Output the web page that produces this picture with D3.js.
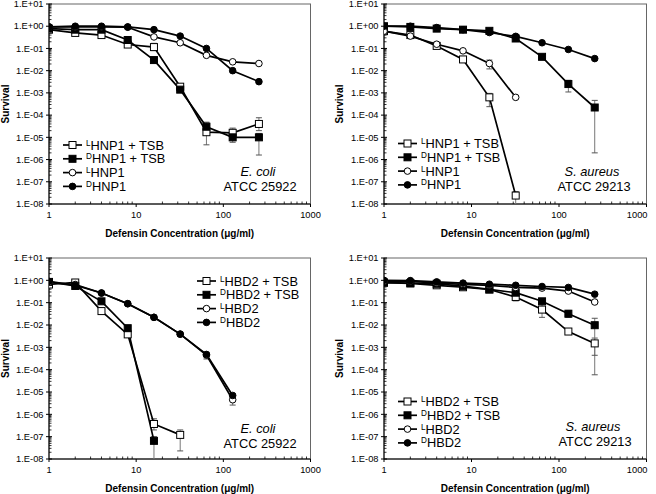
<!DOCTYPE html>
<html><head><meta charset="utf-8">
<script src="https://cdn.jsdelivr.net/npm/d3@7/dist/d3.min.js"></script>
<style>body{margin:0;background:#fff}svg{display:block}</style>
</head><body>
<svg id="c" width="656" height="494"></svg>
<script>
const conc = [1, 2, 4, 8, 16, 32, 64, 128, 256];
const yTickLabels = ["1.E+01","1.E+00","1.E-01","1.E-02","1.E-03","1.E-04","1.E-05","1.E-06","1.E-07","1.E-08"];
const xTickLabels = ["1","10","100","1000"];
const xTitle = "Defensin Concentration (\u03bcg/ml)";
const yTitle = "Survival";

// Panel A: E. coli, HNP1
const ecoliHNP1_L_TSB = [0.7, 0.5, 0.4, 0.15, 0.115, 0.0019, 1.7e-5, 1.6e-5, 4e-5];
const ecoliHNP1_D_TSB = [0.78, 0.7, 0.7, 0.24, 0.03, 0.0014, 3e-5, 1e-5, 1e-5];
const ecoliHNP1_L = [0.93, 0.93, 0.93, 0.9, 0.33, 0.18, 0.049, 0.025, 0.021];
const ecoliHNP1_D = [0.93, 1.0, 1.0, 0.93, 0.7, 0.36, 0.1, 0.01, 0.0032];
const ecoliHNP1_L_TSB_err = [null, null, null, null, [0.08, 0.17], [0.0015, 0.0024], [4.6e-6, 4.8e-5], [1e-5, 2.6e-5], [2e-5, 7.6e-5]];
const ecoliHNP1_D_TSB_err = [null, null, null, null, null, null, [1.5e-5, 4.5e-5], [6e-6, 1.5e-5], [1.6e-6, 1.5e-5]];

// Panel B: S. aureus, HNP1
const saurHNP1_L_TSB = [0.6, 0.4, 0.13, 0.032, 6.3e-4, 2.4e-8];
const saurHNP1_D_TSB = [1.0, 0.93, 0.78, 0.7, 0.62, 0.28, 0.042, 2.5e-3, 2.2e-4];
const saurHNP1_L = [0.6, 0.36, 0.155, 0.078, 0.021, 6.3e-4];
const saurHNP1_D = [1.0, 1.0, 0.87, 0.7, 0.52, 0.35, 0.18, 0.09, 0.035];
const saurHNP1_L_TSB_err = [null, null, null, null, [2.4e-4, 9.5e-4], [1e-9, 3.6e-8]];
const saurHNP1_D_TSB_err = [null, null, null, null, null, null, null, [1.1e-3, 3.7e-3], [2e-6, 4.6e-4]];
const saurHNP1_L_err = [null, null, null, null, [0.012, 0.03], null];

// Panel C: E. coli, HBD2
const ecoliHBD2_L_TSB = [0.65, 0.8, 0.042, 0.0038, 3.7e-7, 1.2e-7];
const ecoliHBD2_D_TSB = [0.85, 0.56, 0.115, 0.0072, 6.5e-8];
const ecoliHBD2_L = [0.8, 0.65, 0.27, 0.09, 0.022, 0.0039, 4.5e-4, 4.5e-6];
const ecoliHBD2_D = [0.9, 0.6, 0.27, 0.09, 0.022, 0.0039, 4.8e-4, 7e-6];
const ecoliHBD2_L_TSB_err = [null, null, null, null, [2e-7, 6.3e-7], [2.3e-8, 2e-7]];
const ecoliHBD2_D_TSB_err = [null, null, null, null, [1e-9, 1e-7]];
const ecoliHBD2_L_err = [null, null, null, null, null, null, [3e-4, 6e-4], [2.6e-6, 7e-6]];

// Panel D: S. aureus, HBD2
const saurHBD2_L_TSB = [0.79, 0.72, 0.6, 0.49, 0.39, 0.18, 0.049, 0.0051, 0.0015];
const saurHBD2_D_TSB = [0.79, 0.76, 0.7, 0.55, 0.39, 0.28, 0.115, 0.032, 0.0098];
const saurHBD2_L = [0.9, 0.9, 0.76, 0.66, 0.6, 0.48, 0.45, 0.33, 0.107];
const saurHBD2_D = [1.0, 0.97, 0.85, 0.75, 0.67, 0.6, 0.53, 0.48, 0.24];
const saurHBD2_L_TSB_err = [null, null, null, null, null, [0.12, 0.3], [0.022, 0.09], null, [5.9e-5, 0.0026]];
const saurHBD2_D_TSB_err = [null, null, null, null, null, null, null, [0.022, 0.045], [4.4e-4, 0.02]];

const svg = d3.select("#c");
const FONT = "'Liberation Sans', Arial, sans-serif";

const panels = [
  {id:"a", x0:49, x1:310.5, y0:4, y1:204, pep:"HNP1", species:"E. coli", strain:"ATCC 25922",
   series:[[ecoliHNP1_L_TSB, ecoliHNP1_L_TSB_err],[ecoliHNP1_D_TSB, ecoliHNP1_D_TSB_err],[ecoliHNP1_L,null],[ecoliHNP1_D,null]],
   legX:63, legY:145, spX:258, spY:172, yTitleX:5},
  {id:"b", x0:384, x1:646.5, y0:4, y1:204, pep:"HNP1", species:"S. aureus", strain:"ATCC 29213",
   series:[[saurHNP1_L_TSB, saurHNP1_L_TSB_err],[saurHNP1_D_TSB, saurHNP1_D_TSB_err],[saurHNP1_L,saurHNP1_L_err],[saurHNP1_D,null]],
   legX:398, legY:143.5, spX:592, spY:172, yTitleX:339},
  {id:"c", x0:49, x1:310.5, y0:258, y1:459, pep:"HBD2", species:"E. coli", strain:"ATCC 25922",
   series:[[ecoliHBD2_L_TSB, ecoliHBD2_L_TSB_err],[ecoliHBD2_D_TSB, ecoliHBD2_D_TSB_err],[ecoliHBD2_L,ecoliHBD2_L_err],[ecoliHBD2_D,null]],
   legX:197, legY:281, spX:258, spY:429, yTitleX:5},
  {id:"d", x0:384, x1:646.5, y0:258, y1:459, pep:"HBD2", species:"S. aureus", strain:"ATCC 29213",
   series:[[saurHBD2_L_TSB, saurHBD2_L_TSB_err],[saurHBD2_D_TSB, saurHBD2_D_TSB_err],[saurHBD2_L,null],[saurHBD2_D,null]],
   legX:398, legY:401.5, spX:593, spY:427, yTitleX:339}
];

const styles = [
  {shape:"square", fill:"#fff", sup:"L", tsb:true},
  {shape:"square", fill:"#000", sup:"D", tsb:true},
  {shape:"circle", fill:"#fff", sup:"L", tsb:false},
  {shape:"circle", fill:"#000", sup:"D", tsb:false}
];

function marker(g, shape, fill, cx, cy) {
  if (shape === "square") {
    g.append("rect").attr("x", cx-3.5).attr("y", cy-3.5).attr("width", 7).attr("height", 7)
      .attr("fill", fill).attr("stroke", "#000").attr("stroke-width", 1);
  } else {
    g.append("circle").attr("cx", cx).attr("cy", cy).attr("r", 3.3)
      .attr("fill", fill).attr("stroke", "#000").attr("stroke-width", 1);
  }
}

panels.forEach(p => {
  const x = d3.scaleLog().domain([1, 1000]).range([p.x0, p.x1]);
  const y = d3.scaleLog().domain([1e-8, 10]).range([p.y1, p.y0]);
  const g = svg.append("g");

  // frame
  g.append("rect").attr("x", p.x0).attr("y", p.y0).attr("width", p.x1-p.x0).attr("height", p.y1-p.y0)
    .attr("fill", "none").attr("stroke", "#666").attr("stroke-width", 1);

  // y axis
  const majorsY = d3.range(1, -9, -1).map(e => Math.pow(10, e));
  const minorsY = [];
  for (let e = -8; e < 1; e++) for (let m = 2; m <= 9; m++) minorsY.push(m*Math.pow(10, e));
  g.append("line").attr("x1", p.x0).attr("x2", p.x0).attr("y1", p.y0).attr("y2", p.y1).attr("stroke", "#000").attr("stroke-width", 1);
  minorsY.forEach(v => g.append("line").attr("x1", p.x0).attr("x2", p.x0+2.5).attr("y1", y(v)).attr("y2", y(v)).attr("stroke", "#000").attr("stroke-width", 0.8));
  majorsY.forEach((v, i) => {
    g.append("line").attr("x1", p.x0-3).attr("x2", p.x0+3).attr("y1", y(v)).attr("y2", y(v)).attr("stroke", "#000").attr("stroke-width", 1);
    g.append("text").attr("x", p.x0-5.5).attr("y", y(v)).attr("dy", "0.35em").attr("text-anchor", "end")
      .attr("font-family", FONT).attr("font-size", 9.3).text(yTickLabels[i]);
  });

  // x axis
  g.append("line").attr("x1", p.x0).attr("x2", p.x1).attr("y1", p.y1).attr("y2", p.y1).attr("stroke", "#000").attr("stroke-width", 1);
  const minorsX = [];
  for (let e = 0; e < 3; e++) for (let m = 2; m <= 9; m++) minorsX.push(m*Math.pow(10, e));
  minorsX.forEach(v => g.append("line").attr("x1", x(v)).attr("x2", x(v)).attr("y1", p.y1).attr("y2", p.y1-2.5).attr("stroke", "#000").attr("stroke-width", 0.8));
  [1, 10, 100, 1000].forEach((v, i) => {
    g.append("line").attr("x1", x(v)).attr("x2", x(v)).attr("y1", p.y1).attr("y2", p.y1+3).attr("stroke", "#000").attr("stroke-width", 1);
    const last = (i === 3 && p.x1 > 640);
    g.append("text").attr("x", last ? p.x1 + 1 : x(v)).attr("y", p.y1+14).attr("text-anchor", last ? "end" : "middle")
      .attr("font-family", FONT).attr("font-size", 9.3).text(xTickLabels[i]);
  });

  // titles
  g.append("text").attr("x", (p.x0+p.x1)/2).attr("y", p.y1+32.5).attr("text-anchor", "middle")
    .attr("font-family", FONT).attr("font-size", 10).attr("font-weight", "bold").text(xTitle);
  g.append("text").attr("transform", `translate(${p.yTitleX + 4},${(p.y0+p.y1)/2}) rotate(-90)`)
    .attr("text-anchor", "middle").attr("font-family", FONT).attr("font-size", 10).attr("font-weight", "bold").text(yTitle);

  // clip
  svg.append("clipPath").attr("id", "clip"+p.id).append("rect")
    .attr("x", p.x0).attr("y", p.y0).attr("width", p.x1-p.x0).attr("height", p.y1-p.y0);
  const plot = g.append("g").attr("clip-path", `url(#clip${p.id})`);

  const line = d3.line().x((d, i) => x(conc[i])).y(d => y(d));

  // error bars
  p.series.forEach(([vals, errs]) => {
    if (!errs) return;
    errs.forEach((e, i) => {
      if (!e) return;
      const cx = x(conc[i]);
      plot.append("line").attr("x1", cx).attr("x2", cx).attr("y1", y(e[0])).attr("y2", y(e[1])).attr("stroke", "#777").attr("stroke-width", 1);
      [e[0], e[1]].forEach(v => plot.append("line").attr("x1", cx-3).attr("x2", cx+3).attr("y1", y(v)).attr("y2", y(v)).attr("stroke", "#555").attr("stroke-width", 1));
    });
  });
  // lines
  p.series.forEach(([vals]) => {
    plot.append("path").attr("d", line(vals)).attr("fill", "none").attr("stroke", "#000").attr("stroke-width", 1.7);
  });
  // markers
  p.series.forEach(([vals], si) => {
    vals.forEach((v, i) => marker(plot, styles[si].shape, styles[si].fill, x(conc[i]), y(v)));
  });

  // legend
  styles.forEach((s, i) => {
    const ly = p.legY + i*13.8;
    g.append("line").attr("x1", p.legX).attr("x2", p.legX+19).attr("y1", ly).attr("y2", ly).attr("stroke", "#000").attr("stroke-width", 1.7);
    marker(g, s.shape, s.fill, p.legX+9.5, ly);
    const t = g.append("text").attr("x", p.legX+23).attr("y", ly+4.5).attr("font-family", FONT).attr("font-size", 12.8);
    t.append("tspan").attr("font-size", 8.2).attr("dy", -4).text(s.sup);
    t.append("tspan").attr("dy", 4).text(p.pep + (s.tsb ? " + TSB" : ""));
  });

  // species
  g.append("text").attr("x", p.spX).attr("y", p.spY).attr("dy", "0.35em").attr("text-anchor", "middle")
    .attr("font-family", FONT).attr("font-size", 12.8).attr("font-style", "italic").text(p.species);
  g.append("text").attr("x", p.spX+2).attr("y", p.spY+15).attr("dy", "0.35em").attr("text-anchor", "middle")
    .attr("font-family", FONT).attr("font-size", 12.8).text(p.strain);
});
</script>
</body></html>
